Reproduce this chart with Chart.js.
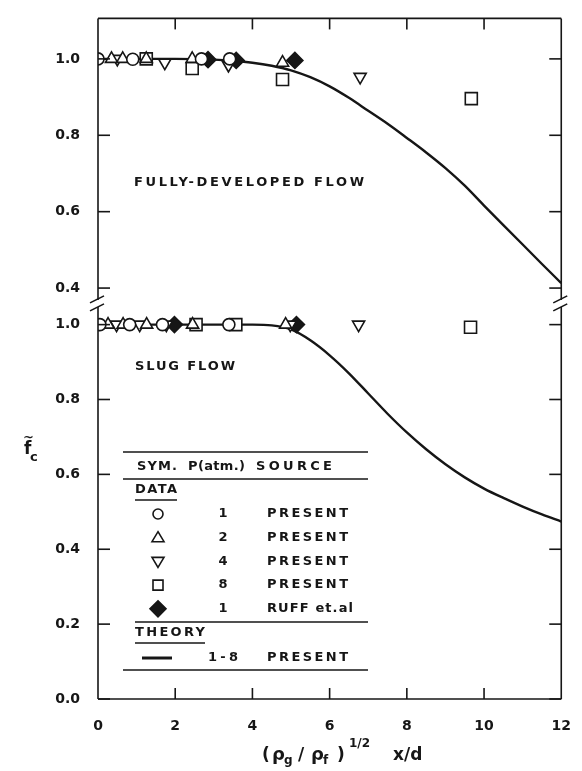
<!DOCTYPE html>
<html>
<head>
<meta charset="utf-8">
<script src="https://cdn.jsdelivr.net/npm/chart.js@4/dist/chart.umd.min.js"></script>
<style>
  html, body { margin: 0; padding: 0; background: #fff; }
</style>
</head>
<body>
<canvas id="chart" width="582" height="771"></canvas>
<script>
// fully-developed flow (upper panel)
const fdP1x = [0, 0.9, 2.68, 3.41];
const fdP1y = [1.0, 0.999, 1.0, 1.0];
const fdP2x = [0.35, 0.64, 1.25, 2.44, 4.78];
const fdP2y = [1.0, 1.0, 1.0, 1.0, 0.99];
const fdP4x = [0.5, 1.73, 3.38, 6.79];
const fdP4y = [1.0, 0.99, 0.984, 0.953];
const fdP8x = [1.25, 2.44, 4.78, 9.67];
const fdP8y = [1.0, 0.975, 0.946, 0.896];
const fdRuffx = [2.85, 3.58, 5.1];
const fdRuffy = [0.998, 0.996, 0.996];
const fdTheoryX = [0, 1, 2, 3, 3.5, 4, 4.5, 5, 5.5, 6, 6.5, 7, 7.5, 8, 8.5, 9, 9.5, 10, 10.5, 11, 11.5, 12];
const fdTheoryY = [1.0, 1.0, 1.0, 0.998, 0.995, 0.99, 0.982, 0.97, 0.952, 0.928, 0.898, 0.864, 0.83, 0.793, 0.755, 0.714, 0.668, 0.616, 0.565, 0.514, 0.463, 0.413];

// slug flow (lower panel)
const slP1x = [0.05, 0.82, 1.67, 3.39];
const slP1y = [1.0, 1.0, 1.0, 1.0];
const slP2x = [0.26, 0.65, 1.26, 2.45, 4.86];
const slP2y = [1.0, 1.0, 1.0, 1.0, 1.0];
const slP4x = [0.48, 1.08, 1.77, 4.98, 6.75];
const slP4y = [1.0, 1.0, 1.0, 1.0, 1.0];
const slP8x = [2.54, 3.57, 9.65];
const slP8y = [1.0, 1.0, 0.993];
const slRuffx = [1.98, 5.14];
const slRuffy = [1.0, 1.0];
const slTheoryX = [0, 1, 2, 3, 4, 4.5, 5, 5.5, 6, 6.5, 7, 7.5, 8, 8.5, 9, 9.5, 10, 10.5, 11, 11.5, 12];
const slTheoryY = [1.0, 1.0, 1.0, 1.0, 1.0, 0.998, 0.987, 0.958, 0.918, 0.87, 0.816, 0.762, 0.712, 0.667, 0.627, 0.592, 0.562, 0.537, 0.514, 0.493, 0.474];

const xTicks = [0, 2, 4, 6, 8, 10, 12];

const legendRows = [
    ['circle', '1', 'PRESENT'],
    ['up', '2', 'PRESENT'],
    ['down', '4', 'PRESENT'],
    ['square', '8', 'PRESENT'],
    ['diamond', '1', 'RUFF et.al'],
];

const ink = '#161616';
const face = "'DejaVu Sans', sans-serif";

function pts(xs, ys) {
    return xs.map((x, i) => ({ x: x, y: ys[i] }));
}

function markers(xs, ys, style, rot, r, fill, axis) {
    return {
        data: pts(xs, ys),
        yAxisID: axis,
        showLine: false,
        pointStyle: style,
        pointRotation: rot,
        pointRadius: r,
        pointHoverRadius: r,
        pointBackgroundColor: fill,
        pointBorderColor: ink,
        pointBorderWidth: 1.6,
        order: 1
    };
}

function theory(xs, ys, axis) {
    return {
        data: pts(xs, ys),
        yAxisID: axis,
        showLine: true,
        borderColor: ink,
        borderWidth: 2.4,
        pointRadius: 0,
        cubicInterpolationMode: 'monotone',
        order: 5
    };
}

// text stretched to the width it has in the figure (x0 to x1)
function fit(ctx, s, x0, x1, y, size) {
    ctx.font = 'bold ' + size + 'px ' + face;
    ctx.letterSpacing = '0px';
    const w = ctx.measureText(s).width;
    const gap = s.length > 1 ? (x1 - x0 - w) / (s.length - 1) : 0;
    ctx.letterSpacing = Math.max(gap, 0) + 'px';
    ctx.textAlign = 'left';
    ctx.textBaseline = 'middle';
    ctx.fillText(s, x0, y);
}

function sym(ctx, kind, x, y) {
    ctx.beginPath();
    if (kind === 'circle') {
        ctx.arc(x, y, 5, 0, 2 * Math.PI);
    } else if (kind === 'up') {
        ctx.moveTo(x, y - 6); ctx.lineTo(x + 6, y + 4); ctx.lineTo(x - 6, y + 4); ctx.closePath();
    } else if (kind === 'down') {
        ctx.moveTo(x, y + 6); ctx.lineTo(x + 6, y - 4); ctx.lineTo(x - 6, y - 4); ctx.closePath();
    } else if (kind === 'square') {
        ctx.rect(x - 5, y - 5, 10, 10);
    } else {
        ctx.moveTo(x, y - 8); ctx.lineTo(x + 8, y); ctx.lineTo(x, y + 8); ctx.lineTo(x - 8, y); ctx.closePath();
        ctx.fill();
    }
    ctx.stroke();
}

function seg(ctx, x1, y1, x2, y2) {
    ctx.beginPath();
    ctx.moveTo(x1, y1);
    ctx.lineTo(x2, y2);
    ctx.stroke();
}

const frame = {
    id: 'frame',
    afterDraw(chart) {
        const ctx = chart.ctx;
        const a = chart.chartArea;
        const xs = chart.scales.x;
        const yt = chart.scales.yTop;
        const yb = chart.scales.yBot;
        const brk = yt.bottom;
        ctx.save();
        ctx.strokeStyle = ink;
        ctx.fillStyle = ink;
        ctx.lineWidth = 1.6;

        // frame with axis break
        seg(ctx, a.left, a.top, a.right, a.top);
        seg(ctx, a.left, a.bottom, a.right, a.bottom);
        [a.left, a.right].forEach(x => {
            seg(ctx, x, a.top, x, brk - 4);
            seg(ctx, x, brk + 3, x, a.bottom);
            seg(ctx, x - 8, brk - 1, x + 6, brk - 8);
            seg(ctx, x - 8, brk + 7, x + 6, brk);
        });

        // inward ticks
        [yt, yb].forEach(s => {
            s.ticks.forEach(t => {
                const y = s.getPixelForValue(t.value);
                seg(ctx, a.left, y, a.left + 12, y);
                seg(ctx, a.right, y, a.right - 12, y);
            });
        });
        xTicks.slice(1, -1).forEach(v => {
            const x = xs.getPixelForValue(v);
            seg(ctx, x, a.bottom, x, a.bottom - 11);
            seg(ctx, x, a.top, x, a.top + 11);
        });

        // panel captions
        fit(ctx, 'FULLY-DEVELOPED FLOW', 134, 364, 183, 13);
        fit(ctx, 'SLUG FLOW', 135, 235, 367, 13);

        // legend table
        const L = 123, R = 368;
        seg(ctx, L, 452, R, 452);
        fit(ctx, 'SYM.', 137, 177, 467, 13);
        fit(ctx, 'P(atm.)', 188, 245, 467, 13);
        fit(ctx, 'SOURCE', 256, 332, 467, 13);
        seg(ctx, L, 479, R, 479);
        fit(ctx, 'DATA', 135, 177, 490, 13);
        seg(ctx, 135, 500, 177, 500);
        legendRows.forEach((r, i) => {
            const y = 514 + i * 23.7;
            sym(ctx, r[0], 158, y);
            ctx.font = 'bold 13px ' + face;
            ctx.letterSpacing = '0px';
            ctx.textAlign = 'center';
            ctx.fillText(r[1], 223, y);
            fit(ctx, r[2], 267, r[2] === 'PRESENT' ? 348 : 353, y, 13);
        });
        seg(ctx, 135, 622, R, 622);
        fit(ctx, 'THEORY', 135, 205, 633, 13);
        seg(ctx, 135, 643, 205, 643);
        ctx.lineWidth = 3;
        seg(ctx, 142, 658, 172, 658);
        ctx.lineWidth = 1.6;
        fit(ctx, '1-8', 208, 238, 658, 13);
        fit(ctx, 'PRESENT', 267, 348, 658, 13);
        seg(ctx, L, 670, R, 670);

        // y axis title: f tilde, subscript c
        ctx.letterSpacing = '0px';
        ctx.textAlign = 'left';
        ctx.textBaseline = 'alphabetic';
        ctx.font = 'bold 17px ' + face;
        ctx.fillText('f', 24, 454);
        ctx.font = 'bold 13px ' + face;
        ctx.fillText('~', 23, 441);
        ctx.fillText('c', 30, 461);

        // x axis title: (rho_g / rho_f)^1/2 x/d
        const base = 760;
        const put = (s, x, size, dy) => {
            ctx.font = 'bold ' + size + 'px ' + face;
            ctx.fillText(s, x, base + dy);
        };
        put('(', 262, 17, 0);
        put('ρ', 272, 18, 0);
        put('g', 284, 12, 4);
        put('/', 298, 17, 0);
        put('ρ', 311, 18, 0);
        put('f', 323, 12, 4);
        put(')', 337, 17, 0);
        put('1/2', 349, 12, -13);
        put('x/d', 393, 17, 0);
        ctx.restore();
    }
};

const tickFont = { family: face, size: 14, weight: 'bold' };

const config = {
    type: 'scatter',
    data: {
        datasets: [
            markers(fdP1x, fdP1y, 'circle', 0, 6, '#fff', 'yTop'),
            markers(fdP2x, fdP2y, 'triangle', 0, 7, '#fff', 'yTop'),
            markers(fdP4x, fdP4y, 'triangle', 180, 7, '#fff', 'yTop'),
            markers(fdP8x, fdP8y, 'rect', 0, 8.5, '#fff', 'yTop'),
            markers(fdRuffx, fdRuffy, 'rectRot', 0, 8, ink, 'yTop'),
            theory(fdTheoryX, fdTheoryY, 'yTop'),
            markers(slP1x, slP1y, 'circle', 0, 6, '#fff', 'yBot'),
            markers(slP2x, slP2y, 'triangle', 0, 7, '#fff', 'yBot'),
            markers(slP4x, slP4y, 'triangle', 180, 7, '#fff', 'yBot'),
            markers(slP8x, slP8y, 'rect', 0, 8.5, '#fff', 'yBot'),
            markers(slRuffx, slRuffy, 'rectRot', 0, 8, ink, 'yBot'),
            theory(slTheoryX, slTheoryY, 'yBot')
        ]
    },
    options: {
        responsive: false,
        devicePixelRatio: 1,
        animation: false,
        events: [],
        layout: { padding: { top: 10, right: 17, left: 0, bottom: 0 } },
        plugins: { legend: { display: false }, tooltip: { enabled: false } },
        scales: {
            x: {
                type: 'linear',
                min: 0,
                max: 12,
                afterBuildTicks: s => { s.ticks = xTicks.map(v => ({ value: v })); },
                ticks: { font: tickFont, color: ink, padding: 11, maxRotation: 0 },
                grid: { display: false },
                border: { display: false },
                afterFit: s => { s.height = 72; }
            },
            yBot: {
                type: 'linear',
                position: 'left',
                stack: 'f',
                stackWeight: 400,
                min: 0,
                max: 1.0554,
                ticks: { stepSize: 0.2, includeBounds: false, font: tickFont, color: ink, padding: 10, callback: v => v.toFixed(1) },
                grid: { display: false },
                border: { display: false },
                afterFit: s => { s.width = 98; }
            },
            yTop: {
                type: 'linear',
                position: 'left',
                stack: 'f',
                stackWeight: 289,
                min: 0.3586,
                max: 1.106,
                ticks: { stepSize: 0.2, includeBounds: false, font: tickFont, color: ink, padding: 10, callback: v => v.toFixed(1) },
                grid: { display: false },
                border: { display: false },
                afterFit: s => { s.width = 98; }
            }
        }
    },
    plugins: [frame]
};

const myChart = new Chart(document.getElementById('chart'), config);
</script>
</body>
</html>
